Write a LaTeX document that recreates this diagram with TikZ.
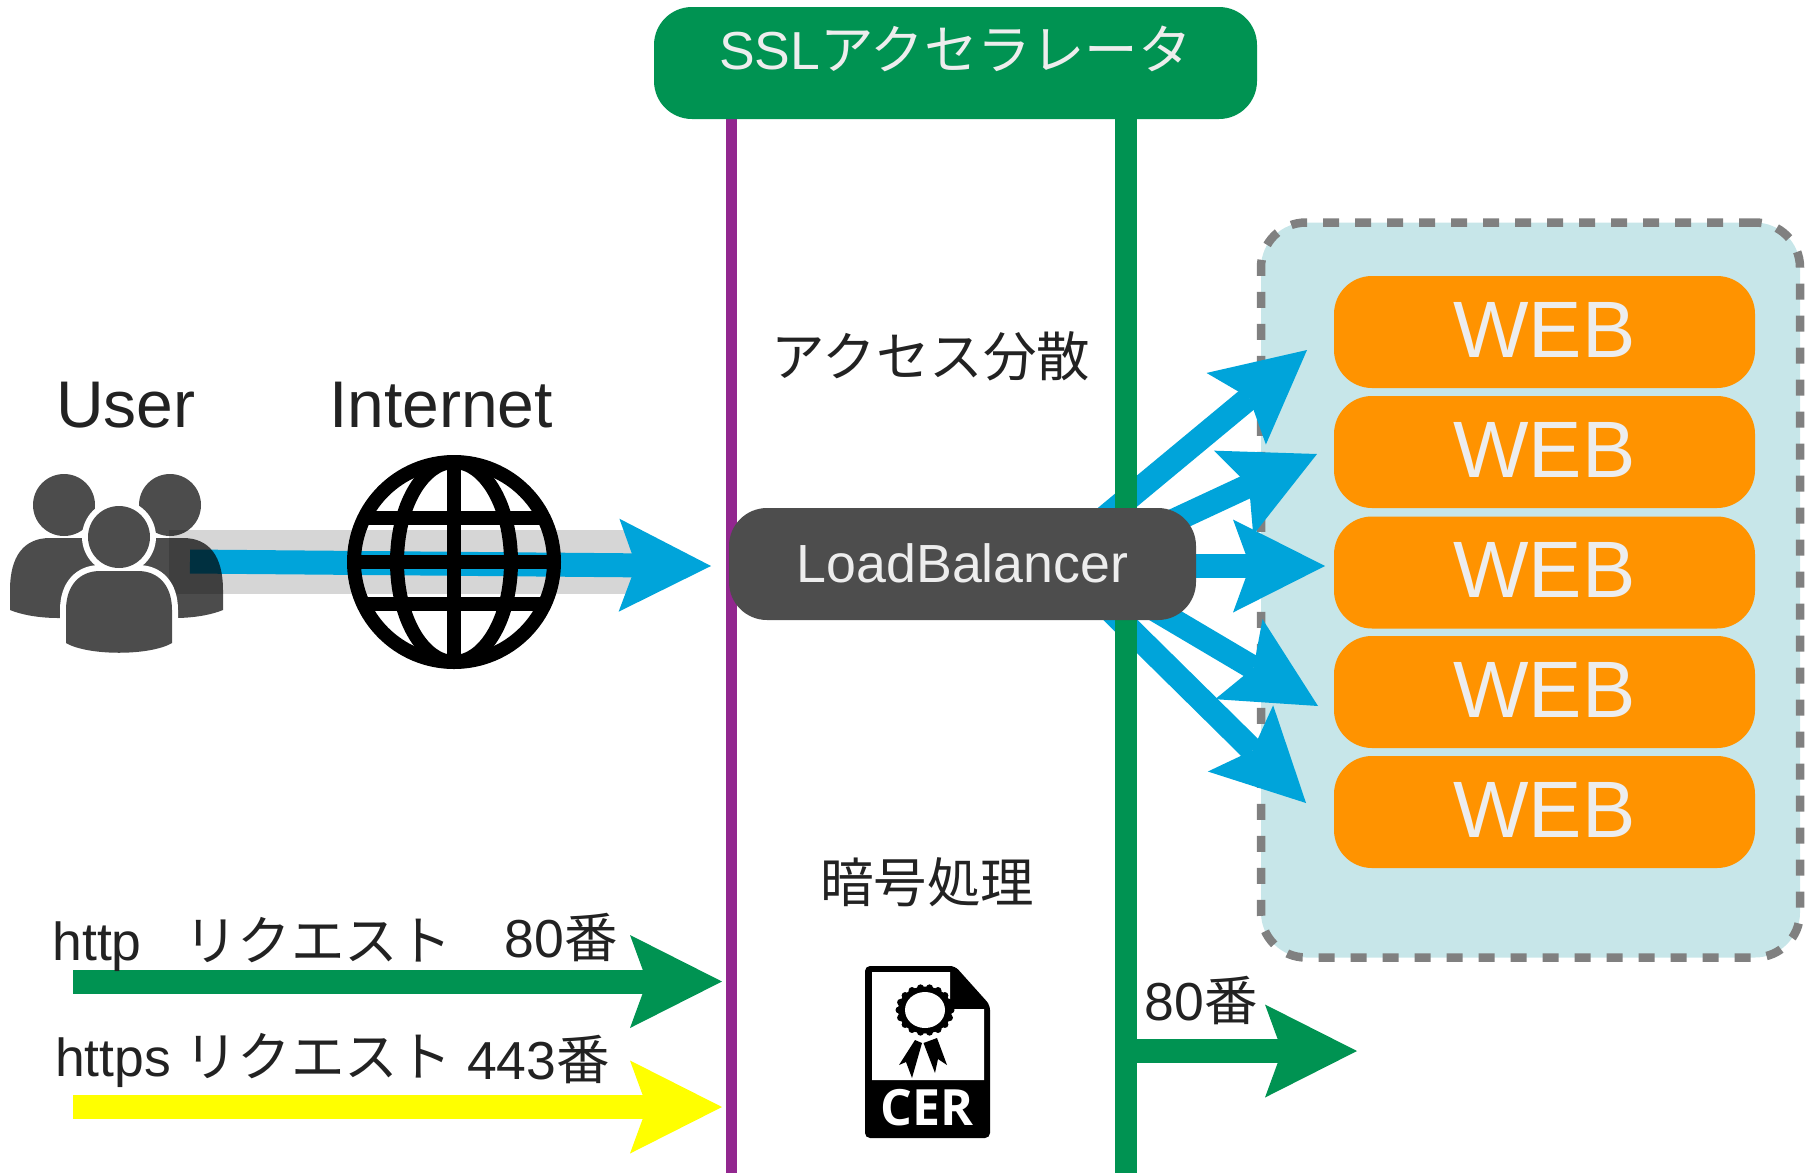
\documentclass[tikz,border=0pt]{standalone}
\usepackage{fontspec}
\setmainfont{Liberation Sans}
\newfontfamily\jpfont{Noto Sans CJK JP}
\newfontfamily\cerfont{Open Sans}
\usetikzlibrary{arrows.meta}
\definecolor{lineblue}{HTML}{00A4DA}
\definecolor{linegreen}{HTML}{009352}
\definecolor{linepurple}{HTML}{92278F}
\definecolor{lineyellow}{HTML}{FFFF00}
\definecolor{weborange}{HTML}{FF9300}
\definecolor{lbgray}{HTML}{4D4D4D}
\definecolor{zonecyan}{HTML}{C7E6E9}
\definecolor{textdark}{HTML}{222222}
\begin{document}
\begin{tikzpicture}[x=1pt,y=-1pt,
    bigarrow/.style={-{Stealth[length=92pt,width=93pt,inset=17pt,line width=0pt]},line width=24pt},
    webbox/.style={fill=weborange,rounded corners=38pt,minimum width=421pt,minimum height=112pt,inner sep=0pt,text depth=5pt,text=white!93!black,font=\fontsize{80}{80}\selectfont},
    label/.style={inner sep=0pt,text=textdark,font=\fontsize{53.5}{60}\selectfont},
    jplabel/.style={label,font=\jpfont\fontsize{53.5}{60}\selectfont},
    biglabel/.style={label,anchor=base,font=\fontsize{66}{70}\selectfont},
    bigbox/.style={rounded corners=38pt,inner sep=0pt,text=white!93!black}]
    \useasboundingbox (0,0) rectangle (1814,1173);
    \node[draw=gray,fill=zonecyan,line width=8.5pt,dash pattern=on 16pt off 16pt,rounded corners=45pt,minimum width=539pt,minimum height=735pt] (webzone) at (1530.5,590) {};
    \node[webbox] (web1) at (1544.5,332) {WEB};
    \node[webbox] (web2) at (1544.5,452) {WEB};
    \node[webbox] (web3) at (1544.5,572.5) {WEB};
    \node[webbox] (web4) at (1544.5,692) {WEB};
    \node[webbox] (web5) at (1544.5,812) {WEB};

    \coordinate (fan1) at (1090,530);
    \coordinate (fan2) at (1100,555);
    \coordinate (fan3) at (1190,566);
    \coordinate (fan4) at (1100,577);
    \coordinate (fan5) at (1090,590);
    \coordinate (tip1) at (1307,350);
    \coordinate (tip2) at (1317,454);
    \coordinate (tip3) at (1325,566);
    \coordinate (tip4) at (1318,706);
    \coordinate (tip5) at (1306,803);
    \foreach \n in {1,...,5}
        \draw[bigarrow,lineblue] (fan\n) -- (tip\n);

    \coordinate (purpletop) at (731.5,100);
    \coordinate (purpleend) at (731.5,1173);
    \coordinate (greentop) at (1126,100);
    \coordinate (greenend) at (1126,1173);
    \draw[linepurple,line width=11pt] (purpletop) -- (purpleend);
    \draw[linegreen,line width=22pt] (greentop) -- (greenend);

    \node[bigbox,fill=linegreen,minimum width=603pt,minimum height=112pt] (ssl) at (955.5,63) {\raisebox{30pt}{\fontsize{53.5}{60}\selectfont SSL{\jpfont アクセラレータ}}};
    \node[bigbox,fill=lbgray,minimum width=467pt,minimum height=112pt] (lb) at (962.5,564) {\raisebox{2pt}{\fontsize{53.7}{60}\selectfont LoadBalancer}};

    \coordinate (bandstart) at (169,562);
    \coordinate (bandend) at (637,562);
    \coordinate (userstart) at (190,561.5);
    \coordinate (lbin) at (711,566);
    \draw[black!16,line width=64pt] (bandstart) -- (bandend);
    \draw[bigarrow,lineblue] (userstart) -- (lbin);

    \fill[opacity=.7] (64,505) circle (31pt) (170,505) circle (31pt);
    \fill[opacity=.7] (10,610) -- (10,590) .. controls (10,556) and (24,538) .. (50,538) -- (95,538) -- (95,618) -- (58,618) .. controls (40,618) and (22,615) .. (10,610) -- cycle;
    \fill[opacity=.7] (223,610) -- (223,590) .. controls (223,556) and (209,538) .. (183,538) -- (138,538) -- (138,618) -- (175,618) .. controls (193,618) and (211,615) .. (223,610) -- cycle;
    \def\frontbody{(66,643) -- (66,610) .. controls (66,585) and (80,571) .. (100,571) -- (138,571) .. controls (158,571) and (172,585) .. (172,610) -- (172,643) .. controls (150,656) and (88,656) .. (66,643) -- cycle}
    \fill[white] (119,537) circle (37pt);
    \draw[white,fill=white,line width=12pt,line join=round] \frontbody;
    \fill[opacity=.7] (119,537) circle (31pt);
    \fill[opacity=.7] \frontbody;

    \draw[line width=14pt] (454,562) circle (100pt);
    \draw[line width=14pt] (454,562) circle [x radius=57pt,y radius=100pt];
    \begin{scope}
        \clip (454,562) circle (103pt);
        \draw[line width=14pt] (454,455) -- (454,669);
        \foreach \lat in {518,562,604}
            \draw[line width=14pt] (340,\lat) -- (570,\lat);
    \end{scope}

    \node[biglabel] (user) at (126,427) {User};
    \node[biglabel] (internet) at (441,427) {Internet};
    \node[jplabel] (balance) at (931,356) {アクセス分散};
    \node[jplabel] (crypto) at (927,882) {暗号処理};

    \coordinate (httpstart) at (73,981.5);
    \coordinate (httpend) at (722,981.5);
    \coordinate (httpsstart) at (73,1107);
    \coordinate (httpsend) at (722,1107);
    \draw[bigarrow,linegreen] (httpstart) -- (httpend);
    \draw[bigarrow,lineyellow] (httpsstart) -- (httpsend);
    \node[label,anchor=base] (httplabel) at (97,960) {http};
    \node[jplabel] (httpreq) at (318,940) {リクエスト};
    \node[label,anchor=base] (httpport) at (561,957) {80{\jpfont 番}};
    \node[label,anchor=base] (httpslabel) at (113,1076) {https};
    \node[jplabel] (httpsreq) at (318,1056) {リクエスト};
    \node[label,anchor=base] (httpsport) at (538.5,1079) {443{\jpfont 番}};

    \coordinate (backstart) at (1126,1051);
    \coordinate (backend) at (1357,1051);
    \draw[bigarrow,linegreen] (backstart) -- (backend);
    \node[label,anchor=base] (backport) at (1201,1020) {80{\jpfont 番}};

    \fill[rounded corners=5pt] (865,966) -- (955,966) -- (990,1005) -- (990,1138) -- (865,1138) -- cycle;
    \fill[white] (872,972) -- (950,972) -- (950,1009) -- (984,1009) -- (984,1080) -- (872,1080) -- cycle;
    \fill (915,1040) -- (899,1065) -- (906,1062) -- (912,1078) -- (922,1043) -- cycle;
    \fill (923.5,1043) -- (935,1073) -- (938,1059) -- (947,1065) -- (937,1038) -- cycle;
    \fill (925,1010) circle [x radius=27pt,y radius=23.5pt];
    \foreach \a in {0,20,...,340}
        \fill (925,1010) ++({26*cos(\a)},{22.5*sin(\a)}) circle (3.5pt);
    \fill[white] (925,1010) circle [x radius=20pt,y radius=18pt];
    \node[inner sep=0pt,text=white,font=\cerfont\bfseries\fontsize{50}{50}\selectfont] (cer) at (927,1108) {CER};
\end{tikzpicture}
\end{document}
